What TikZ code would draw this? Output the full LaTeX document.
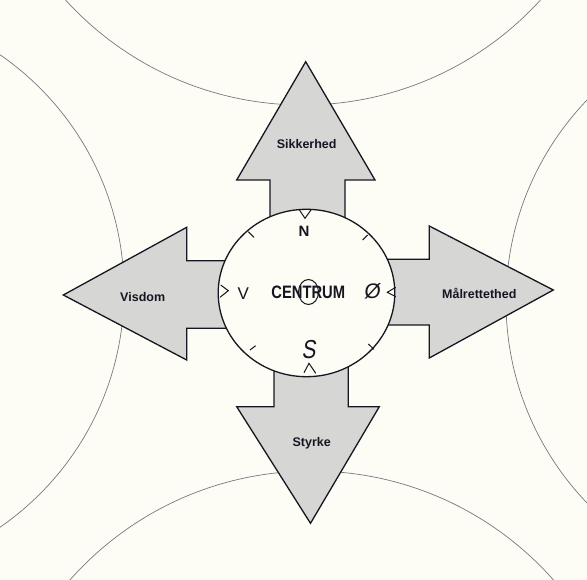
\documentclass[tikz,border=0pt]{standalone}
\usepackage{fontspec}
\setmainfont{Liberation Sans}
\usetikzlibrary{shapes.geometric}
\definecolor{bg}{RGB}{253,253,245}
\definecolor{arrowfill}{RGB}{214,214,212}
\definecolor{ink}{RGB}{22,22,34}
\definecolor{arcgray}{RGB}{120,120,128}
\tikzset{
  bigarrow/.style={draw=ink, fill=arrowfill, line width=1.3pt, line join=miter},
  bgarc/.style={draw=arcgray, line width=0.7pt},
  label/.style={font=\bfseries\fontsize{12.5}{14}\selectfont, text=ink, inner sep=0pt},
  tick/.style={draw=ink, line width=1pt},
  chevron/.style={draw=ink, line width=1pt},
  letter/.style={text=ink, inner sep=0pt}
}
\begin{document}
\begin{tikzpicture}[x=1pt,y=-1pt]
\fill[bg] (0,0) rectangle (587,580);
\useasboundingbox (0,0) rectangle (587,580);
% background arcs
\begin{scope}
\clip (0,0) rectangle (587,580);
\draw[bgarc] (303,-216) circle[radius=321pt];
\draw[bgarc] (-163,291) circle[radius=287pt];
\draw[bgarc] (797,301.5) circle[radius=291pt];
\draw[bgarc] (311.7,793.7) circle[radius=322.7pt];
\end{scope}
% arrows
\draw[bigarrow] (270,250) -- (270,180) -- (236.7,180) -- (305.7,61.7) -- (375,180) -- (345,180) -- (345,250) -- cycle;
\draw[bigarrow] (274,340) -- (274,406.7) -- (236.7,406.7) -- (310.5,523.3) -- (379.3,406.7) -- (348.3,406.7) -- (348.3,340) -- cycle;
\draw[bigarrow] (260,260.7) -- (186.7,260.7) -- (186.7,227.3) -- (63.3,295) -- (186.7,360) -- (186.7,328.3) -- (260,328.3) -- cycle;
\draw[bigarrow] (350,259.3) -- (429.3,259.3) -- (429.3,226) -- (553.3,290) -- (429.3,358) -- (429.3,325) -- (350,325) -- cycle;
% compass circle
\node[ellipse, draw=ink, fill=bg, line width=1.3pt, minimum width=176.6pt, minimum height=167.4pt, inner sep=0pt] (compass) at (306.5,293) {};
% ticks
\draw[tick] (248.3,231.7) -- (254,237.3);
\draw[tick] (362.7,240) -- (367.7,235);
\draw[tick] (368.3,344) -- (374,349.3);
\draw[tick] (250,350) -- (255.7,345.7);
% chevrons
\draw[chevron] (299,209.3) -- (305,218.3) -- (311,210);
\draw[chevron] (304,372.7) -- (309,363.3) -- (315.7,373.3);
\draw[chevron] (220.7,285) -- (228.3,290.7) -- (220,297.3);
\draw[chevron] (395.7,287.3) -- (387.3,292.3) -- (395.7,296.7);
% letters
\node[letter, font=\bfseries\fontsize{15}{16}\selectfont] (north) at (304,231.7) {N};
\node[letter, font=\fontsize{26}{28}\selectfont, xslant=0.15, xscale=0.8] (south) at (310,350) {S};
\node[letter, font=\fontsize{17}{18}\selectfont] (west) at (243.3,293.3) {V};
\node[letter, font=\fontsize{21}{22}\selectfont, xslant=0.1] (east) at (372.7,291.7) {Ø};
\node[letter, font=\bfseries\fontsize{18}{20}\selectfont, xscale=0.82] (centrum) at (308.3,292.7) {CENTRUM};
\node[ellipse, draw=ink, line width=1pt, minimum width=20pt, minimum height=25pt, inner sep=0pt] (centre) at (308.5,292) {};
% labels
\node[label] (sikkerhed) at (306.7,144.3) {Sikkerhed};
\node[label] (visdom) at (142.7,297.3) {Visdom};
\node[label] (maal) at (479.3,293.3) {Målrettethed};
\node[label] (styrke) at (311.7,443.3) {Styrke};
\end{tikzpicture}
\end{document}
